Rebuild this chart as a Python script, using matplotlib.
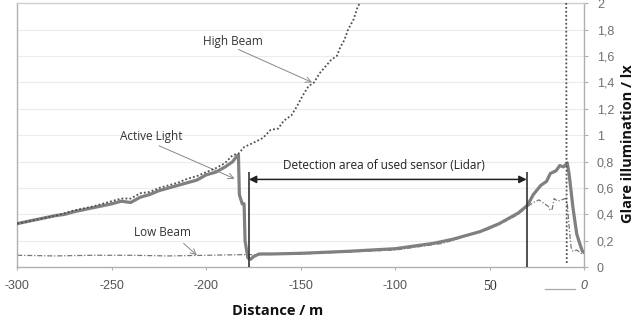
import matplotlib.pyplot as plt

# Active Light (dicke graue Linie)
active_x = [-300, -290, -280, -275, -270, -260, -250, -245, -240, -235, -230, -225, -220,
            -215, -210, -205, -200, -195, -190, -186, -184, -183, -182.5, -181, -180, -179.5,
            -178, -176.5, -175, -172, -165, -150, -125, -100, -90, -80, -70, -60, -55, -50,
            -45, -40, -35, -30, -27, -23, -20, -18, -15, -13, -11, -9, -8, -6, -4, -2, -1, 0]
active_y = [0.33, 0.36, 0.39, 0.40, 0.42, 0.45, 0.48, 0.50, 0.49, 0.53, 0.55, 0.58, 0.60,
            0.62, 0.64, 0.66, 0.70, 0.72, 0.76, 0.80, 0.84, 0.85, 0.55, 0.48, 0.48, 0.20,
            0.07, 0.06, 0.08, 0.10, 0.10, 0.105, 0.12, 0.14, 0.16, 0.18, 0.21, 0.25, 0.27, 0.30,
            0.33, 0.37, 0.41, 0.47, 0.55, 0.62, 0.65, 0.71, 0.73, 0.77, 0.76, 0.79, 0.70, 0.45,
            0.25, 0.16, 0.12, 0.11]

# High Beam (gepunktet)
high_x = [-300, -290, -280, -270, -260, -250, -245, -240, -235, -230, -225, -220, -215, -210,
          -205, -200, -195, -190, -186, -183, -180, -177, -174, -170, -166, -162, -159, -155,
          -152, -149, -146, -143, -140, -137, -134, -131, -129, -127, -125, -122, -120, -117,
          -10, -9.6, -9.3]
high_y = [0.33, 0.36, 0.39, 0.43, 0.46, 0.50, 0.52, 0.52, 0.56, 0.57, 0.60, 0.62, 0.64, 0.67,
          0.69, 0.72, 0.75, 0.79, 0.85, 0.86, 0.91, 0.93, 0.95, 0.98, 1.04, 1.05, 1.11, 1.15,
          1.22, 1.30, 1.37, 1.40, 1.47, 1.52, 1.57, 1.60, 1.67, 1.72, 1.80, 1.88, 1.97, 2.05,
          2.5, 2.05, 0.03]

# Low Beam (dünne Strich-Punkt-Linie)
low_x = [-300, -280, -260, -240, -220, -200, -180, -170, -150, -125, -100, -75, -50, -40, -35,
         -30, -27, -24, -21, -19, -18, -17, -16, -14, -12, -10, -9, -8, -7, -6, -4, -2, -1]
low_y = [0.09, 0.085, 0.09, 0.09, 0.085, 0.09, 0.095, 0.095, 0.10, 0.115, 0.13, 0.18, 0.29,
         0.36, 0.40, 0.46, 0.49, 0.51, 0.48, 0.46, 0.43, 0.44, 0.52, 0.50, 0.51, 0.52, 0.48,
         0.30, 0.15, 0.12, 0.13, 0.11, 0.09]

x_ticks = [-300, -250, -200, -150, -100, -50, 0]
x_labels = ['-300', '-250', '-200', '-150', '-100', '50', '0']
y_ticks = [0, 0.2, 0.4, 0.6, 0.8, 1.0, 1.2, 1.4, 1.6, 1.8, 2.0]
y_labels = ['0', '0,2', '0,4', '0,6', '0,8', '1', '1,2', '1,4', '1,6', '1,8', '2']

sensor_from, sensor_to = -177.5, -30.5

fig = plt.figure(figsize=(6.4, 3.29), dpi=100)
ax = fig.add_axes([0.027, 0.188, 0.886, 0.802])
ax.set_xlim(-300, 0)
ax.set_ylim(0, 2)

# Gitterlinien
for yv in y_ticks[1:-1]:
    ax.axhline(yv, color='#ececec', lw=0.8, zorder=0)

ax.plot(low_x, low_y, color='#777777', lw=0.9, ls=(0, (4, 1.5, 1, 1.5)), zorder=2)
ax.plot(active_x, active_y, color='#808080', lw=2.3, solid_joinstyle='round', zorder=3)
ax.plot(high_x, high_y, color='#505050', lw=1.3, ls=(0, (1, 1.2)), zorder=4)

# Erfassungsbereich Sensor
ax.vlines([sensor_from, sensor_to], 0, 0.72, color='#333333', lw=1.2, zorder=5)
ax.annotate('', xy=(sensor_from, 0.665), xytext=(sensor_to, 0.665),
            arrowprops=dict(arrowstyle='<|-|>', color='#222222', lw=1.1,
                            mutation_scale=11, shrinkA=0, shrinkB=0), zorder=5)
ax.text((sensor_from + sensor_to) / 2 - 2, 0.77, 'Detection area of used sensor (Lidar)',
        ha='center', va='center', fontsize=8.5, family='Open Sans', color='#222222')

# Beschriftungen mit Pfeilen
arr = dict(arrowstyle='->', color='#888888', lw=0.7, shrinkA=0, shrinkB=0)
ax.annotate('High Beam', xy=(-144, 1.40), xytext=(-186, 1.71), textcoords='data',
            fontsize=8.5, family='Open Sans', color='#333333', ha='center', va='center')
ax.annotate('', xy=(-144, 1.40), xytext=(-183, 1.65), arrowprops=arr)
ax.annotate('Active Light', xy=(-185, 0.67), xytext=(-229, 0.99),
            fontsize=8.5, family='Open Sans', color='#333333', ha='center', va='center')
ax.annotate('', xy=(-185, 0.67), xytext=(-225, 0.92), arrowprops=arr)
ax.annotate('Low Beam', xy=(-205, 0.09), xytext=(-223, 0.26),
            fontsize=8.5, family='Open Sans', color='#333333', ha='center', va='center')
ax.annotate('', xy=(-205, 0.09), xytext=(-212, 0.18), arrowprops=arr)

# Achsen
for s in ['left', 'top', 'right', 'bottom']:
    ax.spines[s].set_color('#b0b0b0')
    ax.spines[s].set_linewidth(1.0)
ax.spines['top'].set_color('#cfcfcf')

ax.yaxis.tick_right()
ax.set_yticks(y_ticks)
ax.set_yticklabels(y_labels, family='Liberation Sans', fontsize=9, color='#707070')
ax.tick_params(axis='y', length=3, color='#b0b0b0', pad=6)

ax.set_xticks(x_ticks)
xt = ax.set_xticklabels(x_labels, family='Liberation Sans', fontsize=9, color='#555555')
xt[5].set_family('Liberation Serif')
xt[5].set_fontsize(10)
xt[5].set_color('#333333')
xt[6].set_style('italic')
ax.tick_params(axis='x', length=2, color='#b0b0b0', pad=7)

ax.set_xlabel('Distance / m', fontsize=10.5, fontweight='bold', family='Open Sans',
              color='#111111')
ax.xaxis.set_label_coords(0.46, -0.14)
ax.yaxis.set_label_position('right')
ax.set_ylabel('Glare illumination / lx', fontsize=10.5, fontweight='bold', family='Open Sans',
              color='#111111')
ax.yaxis.set_label_coords(1.065, 0.47)

# kurzer Strich neben der 0
fig.lines.append(plt.Line2D([545 / 640, 575 / 640], [1 - 289 / 329, 1 - 289 / 329],
                            color='#aaaaaa', lw=0.9, transform=fig.transFigure))

fig.savefig('out.png', dpi=100)
